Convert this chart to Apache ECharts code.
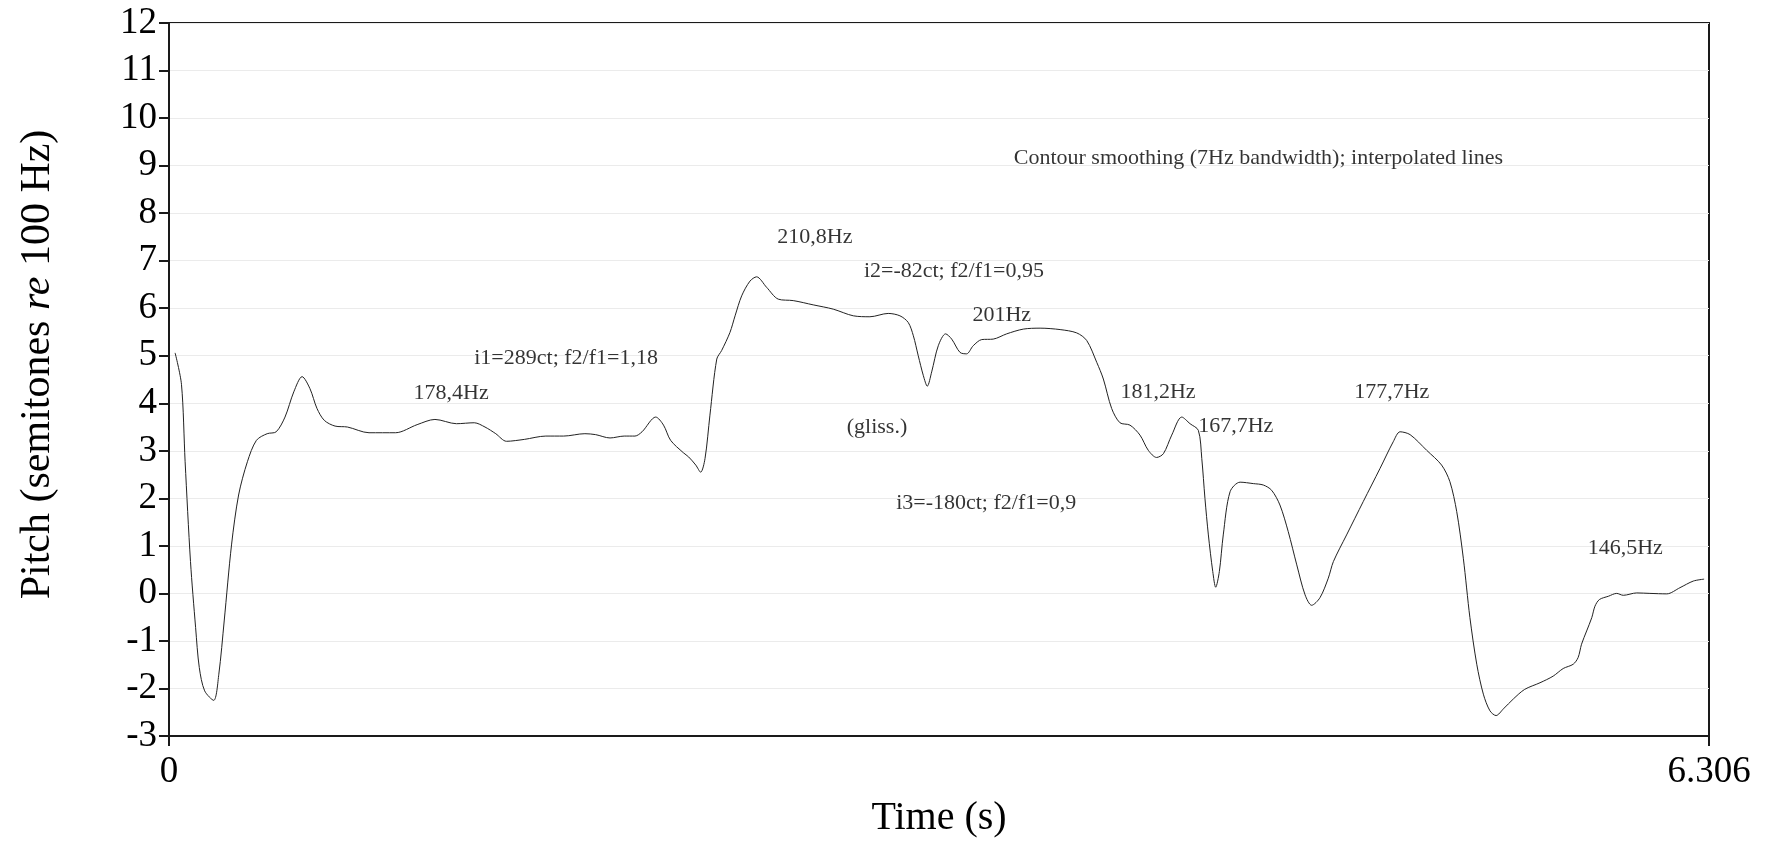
<!DOCTYPE html>
<html>
<head>
<meta charset="utf-8">
<script src="https://cdn.jsdelivr.net/npm/echarts@6/dist/echarts.min.js"></script>
<style>
  html, body { margin: 0; padding: 0; background: #fff; }
  #main { width: 1765px; height: 843px; }
</style>
</head>
<body>
<div id="main"></div>
<script>
// pitch contour, time in s / semitones re 100 Hz
var times = [
  0.025, 0.051, 0.066, 0.088, 0.109, 0.124, 0.146, 0.183, 0.204, 0.226,
  0.256, 0.285, 0.321, 0.358, 0.402, 0.439, 0.475, 0.511, 0.545, 0.577,
  0.606, 0.636, 0.680, 0.731, 0.819, 0.928, 1.016, 1.089, 1.177, 1.250,
  1.294, 1.338, 1.382, 1.455, 1.543, 1.616, 1.703, 1.747, 1.806, 1.864,
  1.908, 1.937, 1.993, 2.025, 2.054, 2.106, 2.128, 2.157, 2.177, 2.195,
  2.215, 2.243, 2.263, 2.297, 2.318, 2.345, 2.379, 2.406, 2.447, 2.495,
  2.556, 2.638, 2.720, 2.802, 2.870, 2.945, 2.993, 3.027, 3.048, 3.068,
  3.089, 3.105, 3.123, 3.150, 3.180, 3.205, 3.239, 3.266, 3.293, 3.328,
  3.375, 3.430, 3.498, 3.567, 3.649, 3.717, 3.758, 3.799, 3.826, 3.860,
  3.894, 3.935, 3.976, 4.010, 4.044, 4.072, 4.106, 4.147, 4.181, 4.215,
  4.229, 4.242, 4.256, 4.274, 4.286, 4.301, 4.317, 4.345, 4.386, 4.440,
  4.481, 4.515, 4.549, 4.583, 4.618, 4.652, 4.679, 4.713, 4.747, 4.768,
  4.822, 4.890, 4.959, 5.013, 5.041, 5.082, 5.150, 5.211, 5.245, 5.273,
  5.300, 5.327, 5.355, 5.382, 5.409, 5.434, 5.464, 5.505, 5.551, 5.614,
  5.668, 5.709, 5.750, 5.770, 5.784, 5.805, 5.826, 5.839, 5.857, 5.894,
  5.928, 5.955, 6.010, 6.064, 6.133, 6.187, 6.242, 6.286
];
var pitch = [
  5.06, 4.40, 2.77, 0.67, -0.72, -1.56, -2.05, -2.25, -1.70, -0.58,
  1.02, 2.07, 2.77, 3.22, 3.36, 3.40, 3.71, 4.24, 4.56, 4.31,
  3.89, 3.64, 3.52, 3.50, 3.38, 3.38, 3.55, 3.66, 3.57, 3.59,
  3.50, 3.36, 3.20, 3.24, 3.31, 3.31, 3.36, 3.34, 3.27, 3.31,
  3.31, 3.40, 3.71, 3.54, 3.22, 2.96, 2.87, 2.70, 2.55, 2.84,
  3.75, 4.93, 5.11, 5.49, 5.84, 6.26, 6.57, 6.66, 6.44, 6.19,
  6.16, 6.07, 5.98, 5.84, 5.82, 5.89, 5.84, 5.70, 5.42, 5.00,
  4.58, 4.36, 4.66, 5.21, 5.46, 5.35, 5.07, 5.04, 5.21, 5.34,
  5.35, 5.46, 5.56, 5.58, 5.55, 5.48, 5.32, 4.86, 4.51, 3.89,
  3.59, 3.54, 3.33, 3.01, 2.86, 2.94, 3.33, 3.71, 3.57, 3.43,
  2.84, 2.00, 1.23, 0.46, 0.13, 0.46, 1.23, 2.14, 2.34, 2.31,
  2.28, 2.17, 1.86, 1.30, 0.60, -0.03, -0.25, -0.09, 0.32, 0.67,
  1.23, 1.93, 2.63, 3.19, 3.40, 3.34, 3.01, 2.70, 2.35, 1.72,
  0.74, -0.51, -1.49, -2.12, -2.47, -2.57, -2.43, -2.22, -2.02, -1.88,
  -1.74, -1.58, -1.49, -1.35, -1.07, -0.79, -0.51, -0.27, -0.13, -0.06,
  0.00, -0.04, 0.01, 0.00, -0.01, 0.12, 0.26, 0.30
];

// text annotations placed in data coordinates
var noteTexts = [
  '178,4Hz', 'i1=289ct; f2/f1=1,18', '210,8Hz', 'i2=-82ct; f2/f1=0,95',
  '201Hz', '(gliss.)', 'i3=-180ct; f2/f1=0,9', '181,2Hz', '167,7Hz',
  '177,7Hz', '146,5Hz', 'Contour smoothing (7Hz bandwidth); interpolated lines'
];
var noteTimes = [1.155, 1.626, 2.645, 3.214, 3.410, 2.899, 3.346, 4.050, 4.368, 5.007, 5.963, 4.461];
var noteValues = [4.22, 4.95, 7.50, 6.77, 5.86, 3.50, 1.90, 4.24, 3.52, 4.24, 0.95, 9.16];

var xTicks = [0, 6.306];
var yMin = -3, yMax = 12;

var serif = '"Liberation Serif", "Times New Roman", serif';

var line = [];
for (var i = 0; i < times.length; i++) {
    line.push([times[i], pitch[i]]);
}
var notes = [];
for (var j = 0; j < noteTexts.length; j++) {
    notes.push({ name: noteTexts[j], value: [noteTimes[j], noteValues[j]] });
}

var chart = echarts.init(document.getElementById('main'), null, { renderer: 'canvas' });
chart.setOption({
    animation: false,
    backgroundColor: '#fff',
    grid: {
        left: 169, right: 56, top: 23, bottom: 104,
        show: true,
        borderColor: '#1a1a1a',
        borderWidth: 2
    },
    xAxis: {
        type: 'value',
        min: xTicks[0],
        max: xTicks[1],
        interval: xTicks[1] - xTicks[0],
        name: 'Time (s)',
        nameLocation: 'middle',
        nameGap: 62,
        nameTextStyle: { fontFamily: serif, fontSize: 40, color: '#000' },
        axisLine: { show: true, onZero: false, lineStyle: { color: '#1a1a1a', width: 2 } },
        axisTick: { show: true, length: 10, lineStyle: { color: '#1a1a1a', width: 2 } },
        axisLabel: {
            margin: 18,
            fontFamily: serif, fontSize: 37, color: '#000',
            showMinLabel: true, showMaxLabel: true,
            formatter: function (v) { return v === 0 ? '0' : v.toFixed(3); }
        },
        splitLine: { show: false }
    },
    yAxis: {
        type: 'value',
        min: yMin,
        max: yMax,
        interval: 1,
        name: 'Pitch (semitones {i|re} 100 Hz)',
        nameLocation: 'middle',
        nameGap: 110,
        nameRotate: 90,
        nameTextStyle: {
            fontFamily: serif, fontSize: 42, color: '#000',
            padding: [0, 0, 0, 30],
            rich: { i: { fontFamily: serif, fontSize: 42, fontStyle: 'italic', color: '#000' } }
        },
        axisLine: { show: true, onZero: false, lineStyle: { color: '#1a1a1a', width: 2 } },
        axisTick: { show: true, length: 10, lineStyle: { color: '#1a1a1a', width: 2 } },
        axisLabel: { margin: 12, fontFamily: serif, fontSize: 37, color: '#000' },
        splitLine: { show: true, lineStyle: { color: '#ebebeb', width: 1 } }
    },
    series: [
        {
            name: 'pitch',
            type: 'line',
            data: line,
            showSymbol: false,
            smooth: 0.3,
            lineStyle: { color: '#222', width: 1 },
            silent: true
        },
        {
            name: 'notes',
            type: 'scatter',
            data: notes,
            symbolSize: 1,
            itemStyle: { color: 'rgba(0,0,0,0)' },
            silent: true,
            label: {
                show: true,
                position: 'inside',
                formatter: '{b}',
                fontFamily: serif,
                fontSize: 22,
                color: '#000'
            }
        }
    ]
});
</script>
</body>
</html>
